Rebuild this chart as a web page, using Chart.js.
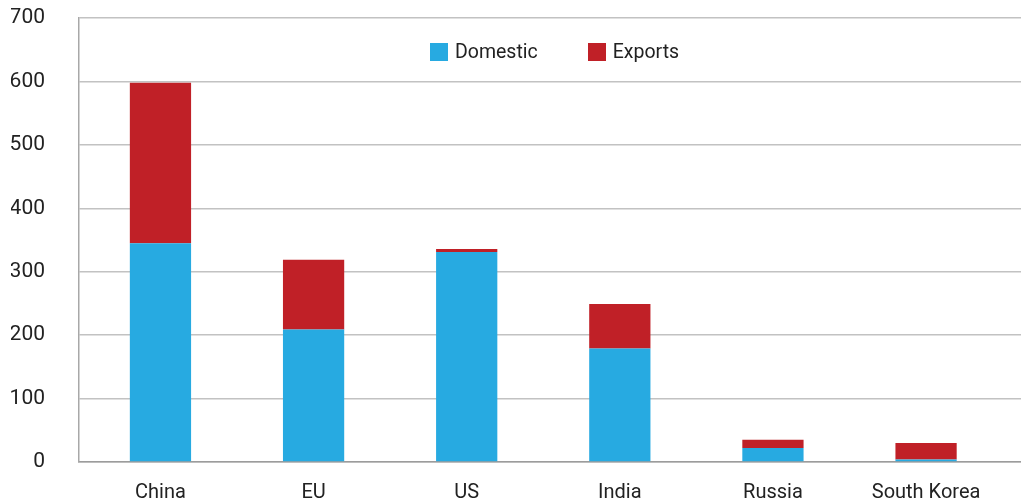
<!DOCTYPE html>
<html>
<head>
<meta charset="utf-8">
<script src="https://cdn.jsdelivr.net/npm/chart.js@4.4.0/dist/chart.umd.min.js"></script>
<style>
  html, body { margin: 0; padding: 0; background: #fff; }
  #wrap { position: relative; width: 1021px; height: 504px; }
  #legend {
    position: absolute; left: 430px; top: 40px;
    display: flex; align-items: center;
    font-family: Roboto, sans-serif; font-size: 19.5px; color: #222;
  }
  #legend .item { display: flex; align-items: center; margin-right: 50px; }
  #legend .box { width: 18px; height: 18px; margin-right: 7px; }
</style>
</head>
<body>
<div id="wrap">
  <canvas id="chart" width="1021" height="504"></canvas>
  <div id="legend"></div>
</div>
<script>
// ===== Domestic vs exports, stacked bars =====

const categories = ['China', 'EU', 'US', 'India', 'Russia', 'South Korea'];
const domestic = [345, 209, 331, 179, 22, 4];
const exportsData = [253, 110, 5, 70, 13, 26];
const yTicks = [0, 100, 200, 300, 400, 500, 600, 700];

const BLUE = '#27aae1';
const RED = '#c02027';
const FONT = 'Roboto';

// bars sit on a linear index axis so the category band can be offset
const toPoints = arr => arr.map((v, i) => ({ x: i, y: v }));

const datasets = [
  { label: 'Domestic', data: toPoints(domestic), backgroundColor: BLUE },
  { label: 'Exports', data: toPoints(exportsData), backgroundColor: RED },
];

new Chart(document.getElementById('chart'), {
  type: 'bar',
  data: { datasets },
  options: {
    responsive: false,
    animation: false,
    layout: { padding: { left: 11, right: 0, top: 18, bottom: 2 } },
    datasets: { bar: { barPercentage: 0.4, categoryPercentage: 1 } },
    plugins: { legend: { display: false }, tooltip: { enabled: false } },
    scales: {
      x: {
        type: 'linear',
        stacked: true,
        offset: false,
        min: -0.532,
        max: 5.62,
        afterBuildTicks: axis => { axis.ticks = categories.map((_, i) => ({ value: i })); },
        afterFit: s => { s.height = 40; s.paddingLeft = 0; s.paddingRight = 0; },
        ticks: {
          callback: v => categories[v],
          color: '#222',
          font: { family: FONT, size: 20 },
          padding: 19,
          maxRotation: 0,
          autoSkip: false,
        },
        grid: { display: false, drawTicks: false, offset: false },
        border: { color: '#9c9c9c', width: 1.5 },
      },
      y: {
        stacked: true,
        min: 0,
        max: 700,
        afterBuildTicks: axis => { axis.ticks = yTicks.map(v => ({ value: v })); },
        afterFit: s => { s.width = 68; s.paddingTop = 0; s.paddingBottom = 0; },
        ticks: {
          color: '#222',
          font: { family: FONT, size: 21 },
          padding: 34,
        },
        grid: { color: '#c2c2c2', lineWidth: 1.5, drawTicks: false },
        border: { color: '#a8a8a8', width: 1.5 },
      },
    },
  },
});

// legend drawn as html over the plot
const legend = document.getElementById('legend');
datasets.forEach(ds => {
  const item = document.createElement('div');
  item.className = 'item';
  const box = document.createElement('span');
  box.className = 'box';
  box.style.background = ds.backgroundColor;
  const txt = document.createElement('span');
  txt.textContent = ds.label;
  item.appendChild(box);
  item.appendChild(txt);
  legend.appendChild(item);
});
</script>
</body>
</html>
